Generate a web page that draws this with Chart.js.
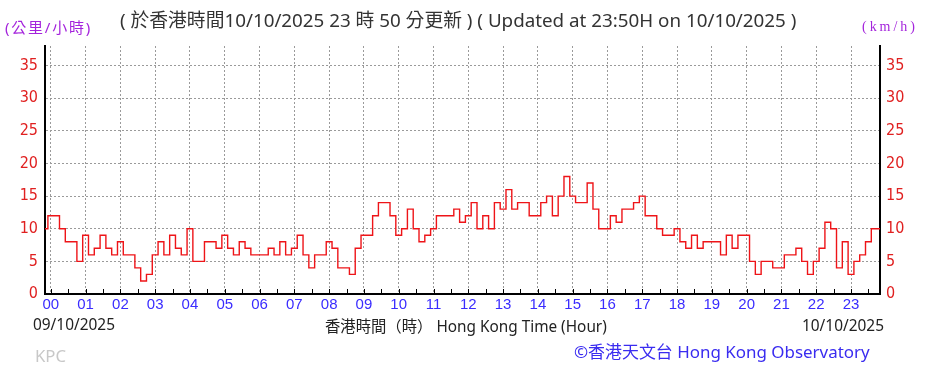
<!DOCTYPE html>
<html>
<head>
<meta charset="utf-8">
<script src="https://cdn.jsdelivr.net/npm/chart.js@4.4.1/dist/chart.umd.min.js"></script>
<style>
  body { margin: 0; background: #fff; }
  #wrap { position: relative; width: 942px; height: 388px; overflow: hidden; }
  #windChart { position: absolute; left: 0; top: 0; }
  .txt { position: absolute; white-space: nowrap; line-height: 20px; height: 20px; }
  .cjk { font-family: "Noto Sans", "Noto Sans CJK TC", sans-serif; }
</style>
</head>
<body>
<div id="wrap">
  <canvas id="windChart" width="942" height="388"></canvas>
  <div class="txt cjk" id="unitLeft" data-w="87" data-fit="spacing" style="left:5px; top:17px; color:#a424dc; font-size:15px;">(公里/小時)</div>
  <div class="txt cjk" id="title" data-w="677" style="left:120px; top:10px; color:#333; font-size:16px;">( 於香港時間10/10/2025 23 時 50 分更新 ) ( Updated at 23:50H on 10/10/2025 )</div>
  <div class="txt" id="unitRight" data-w="56" data-fit="spacing" style="left:862px; top:17px; color:#a424dc; font-size:14px; font-family:'Liberation Serif', serif;">(km/h)</div>
  <div class="txt cjk" id="dateLeft" data-w="82" style="left:33px; top:315px; color:#222; font-size:15px;">09/10/2025</div>
  <div class="txt cjk" id="axisTitle" data-w="282" style="left:325px; top:316px; color:#222; font-size:15px;">香港時間（時） Hong Kong Time (Hour)</div>
  <div class="txt cjk" id="dateRight" data-w="82" style="left:802px; top:316px; color:#222; font-size:15px;">10/10/2025</div>
  <div class="txt cjk" id="kpc" data-w="31" style="left:35px; top:346px; color:#c8c8c8; font-size:14px;">KPC</div>
  <div class="txt cjk" id="credit" data-w="296" style="left:574px; top:342px; color:#3a2cf0; font-size:17px;">©香港天文台 Hong Kong Observatory</div>
</div>
<script>
// 10-minute wind speed readings (km/h), starting 23:50 on 09/10/2025
const startHour = -1 / 6;
const stepHours = 1 / 6;
const speeds = [
  10, 12, 12, 10, 8, 8, 5, 9, 6, 7, 9, 7, 6, 8, 6, 6, 4, 2, 3, 6, 8, 6, 9, 7, 6,
  10, 5, 5, 8, 8, 7, 9, 7, 6, 8, 7, 6, 6, 6, 7, 6, 8, 6, 7, 9, 6, 4, 6, 6,
  8, 7, 4, 4, 3, 7, 9, 9, 12, 14, 14, 12, 9, 10, 13, 10, 8, 9, 10, 12, 12, 12, 13, 11,
  12, 14, 10, 12, 10, 14, 13, 16, 13, 14, 14, 12, 12, 14, 15, 12, 15, 18, 15, 14, 14, 17, 13, 10,
  10, 12, 11, 13, 13, 14, 15, 12, 12, 10, 9, 9, 10, 8, 7, 9, 7, 8, 8, 8, 6, 9, 7, 9,
  9, 5, 3, 5, 5, 4, 4, 6, 6, 7, 5, 3, 5, 7, 11, 10, 4, 8, 3, 5, 6, 8, 10, 10
];
const hourLabels = ['00','01','02','03','04','05','06','07','08','09','10','11',
                    '12','13','14','15','16','17','18','19','20','21','22','23'];
const speedTicks = [0, 5, 10, 15, 20, 25, 30, 35];
const speedMax = 38;

const points = speeds.map((v, i) => ({ x: startHour + i * stepHours, y: v }));
const xMin = startHour;
const xMax = startHour + (speeds.length - 1) * stepHours;

// small inside ticks on the time axis, every half hour
const innerTicks = {
  id: 'innerTicks',
  afterDraw(chart) {
    const x = chart.scales.x;
    const c = chart.ctx;
    const bottom = chart.chartArea.bottom;
    c.save();
    c.strokeStyle = '#000';
    c.lineWidth = 1;
    c.beginPath();
    for (let h = 0; h <= 23.5; h += 0.5) {
      const px = Math.round(x.getPixelForValue(h)) + 0.5;
      c.moveTo(px, bottom - 1);
      c.lineTo(px, bottom - 5);
    }
    c.stroke();
    c.restore();
  }
};

const tickFont = { family: "'Liberation Sans', sans-serif", size: 15 };
const speedFont = { family: "'Liberation Sans Narrow', 'DejaVu Sans Condensed', 'Liberation Sans', sans-serif", size: 16 };

new Chart(document.getElementById('windChart'), {
  type: 'line',
  data: {
    datasets: [{
      data: points,
      borderColor: '#ee1418',
      borderWidth: 1.4,
      pointRadius: 0,
      stepped: 'middle',
      fill: false
    }]
  },
  options: {
    responsive: false,
    animation: false,
    layout: { padding: { top: 46, left: 0, right: 0, bottom: 0 } },
    plugins: { legend: { display: false }, tooltip: { enabled: false } },
    scales: {
      x: {
        type: 'linear',
        min: xMin,
        max: xMax,
        afterFit: s => { s.height = 94; },
        afterBuildTicks: s => { s.ticks = hourLabels.map((_, i) => ({ value: i })); },
        ticks: {
          callback: v => hourLabels[v],
          color: '#3a2cff',
          font: tickFont,
          padding: 2,
          maxRotation: 0,
          autoSkip: false
        },
        grid: { color: '#9a9a9a', lineWidth: 1, drawTicks: false },
        border: { color: '#000', width: 2, dash: [2, 2] }
      },
      y: {
        min: 0,
        max: speedMax,
        afterFit: s => { s.width = 45; },
        afterBuildTicks: s => { s.ticks = speedTicks.map(v => ({ value: v })); },
        ticks: { color: '#e02020', font: speedFont, padding: 7 },
        grid: { color: '#9a9a9a', lineWidth: 1, drawTicks: false },
        border: { color: '#000', width: 2, dash: [2, 2] }
      },
      y2: {
        position: 'right',
        min: 0,
        max: speedMax,
        afterFit: s => { s.width = 62; },
        afterBuildTicks: s => { s.ticks = speedTicks.map(v => ({ value: v })); },
        ticks: { color: '#e02020', font: speedFont, padding: 6 },
        grid: { drawOnChartArea: false, drawTicks: false },
        border: { color: '#000', width: 2 }
      }
    }
  },
  plugins: [innerTicks]
});

// match the widths the text blocks take in the original picture
document.querySelectorAll('.txt').forEach(el => {
  const target = +el.dataset.w;
  const w = el.getBoundingClientRect().width;
  if (!(w > 0)) return;
  if (el.dataset.fit === 'spacing') {
    const n = el.textContent.length;
    el.style.letterSpacing = ((target - w) / n).toFixed(2) + 'px';
  } else {
    const size = parseFloat(el.style.fontSize);
    el.style.fontSize = (size * target / w).toFixed(2) + 'px';
  }
});
</script>
</body>
</html>
